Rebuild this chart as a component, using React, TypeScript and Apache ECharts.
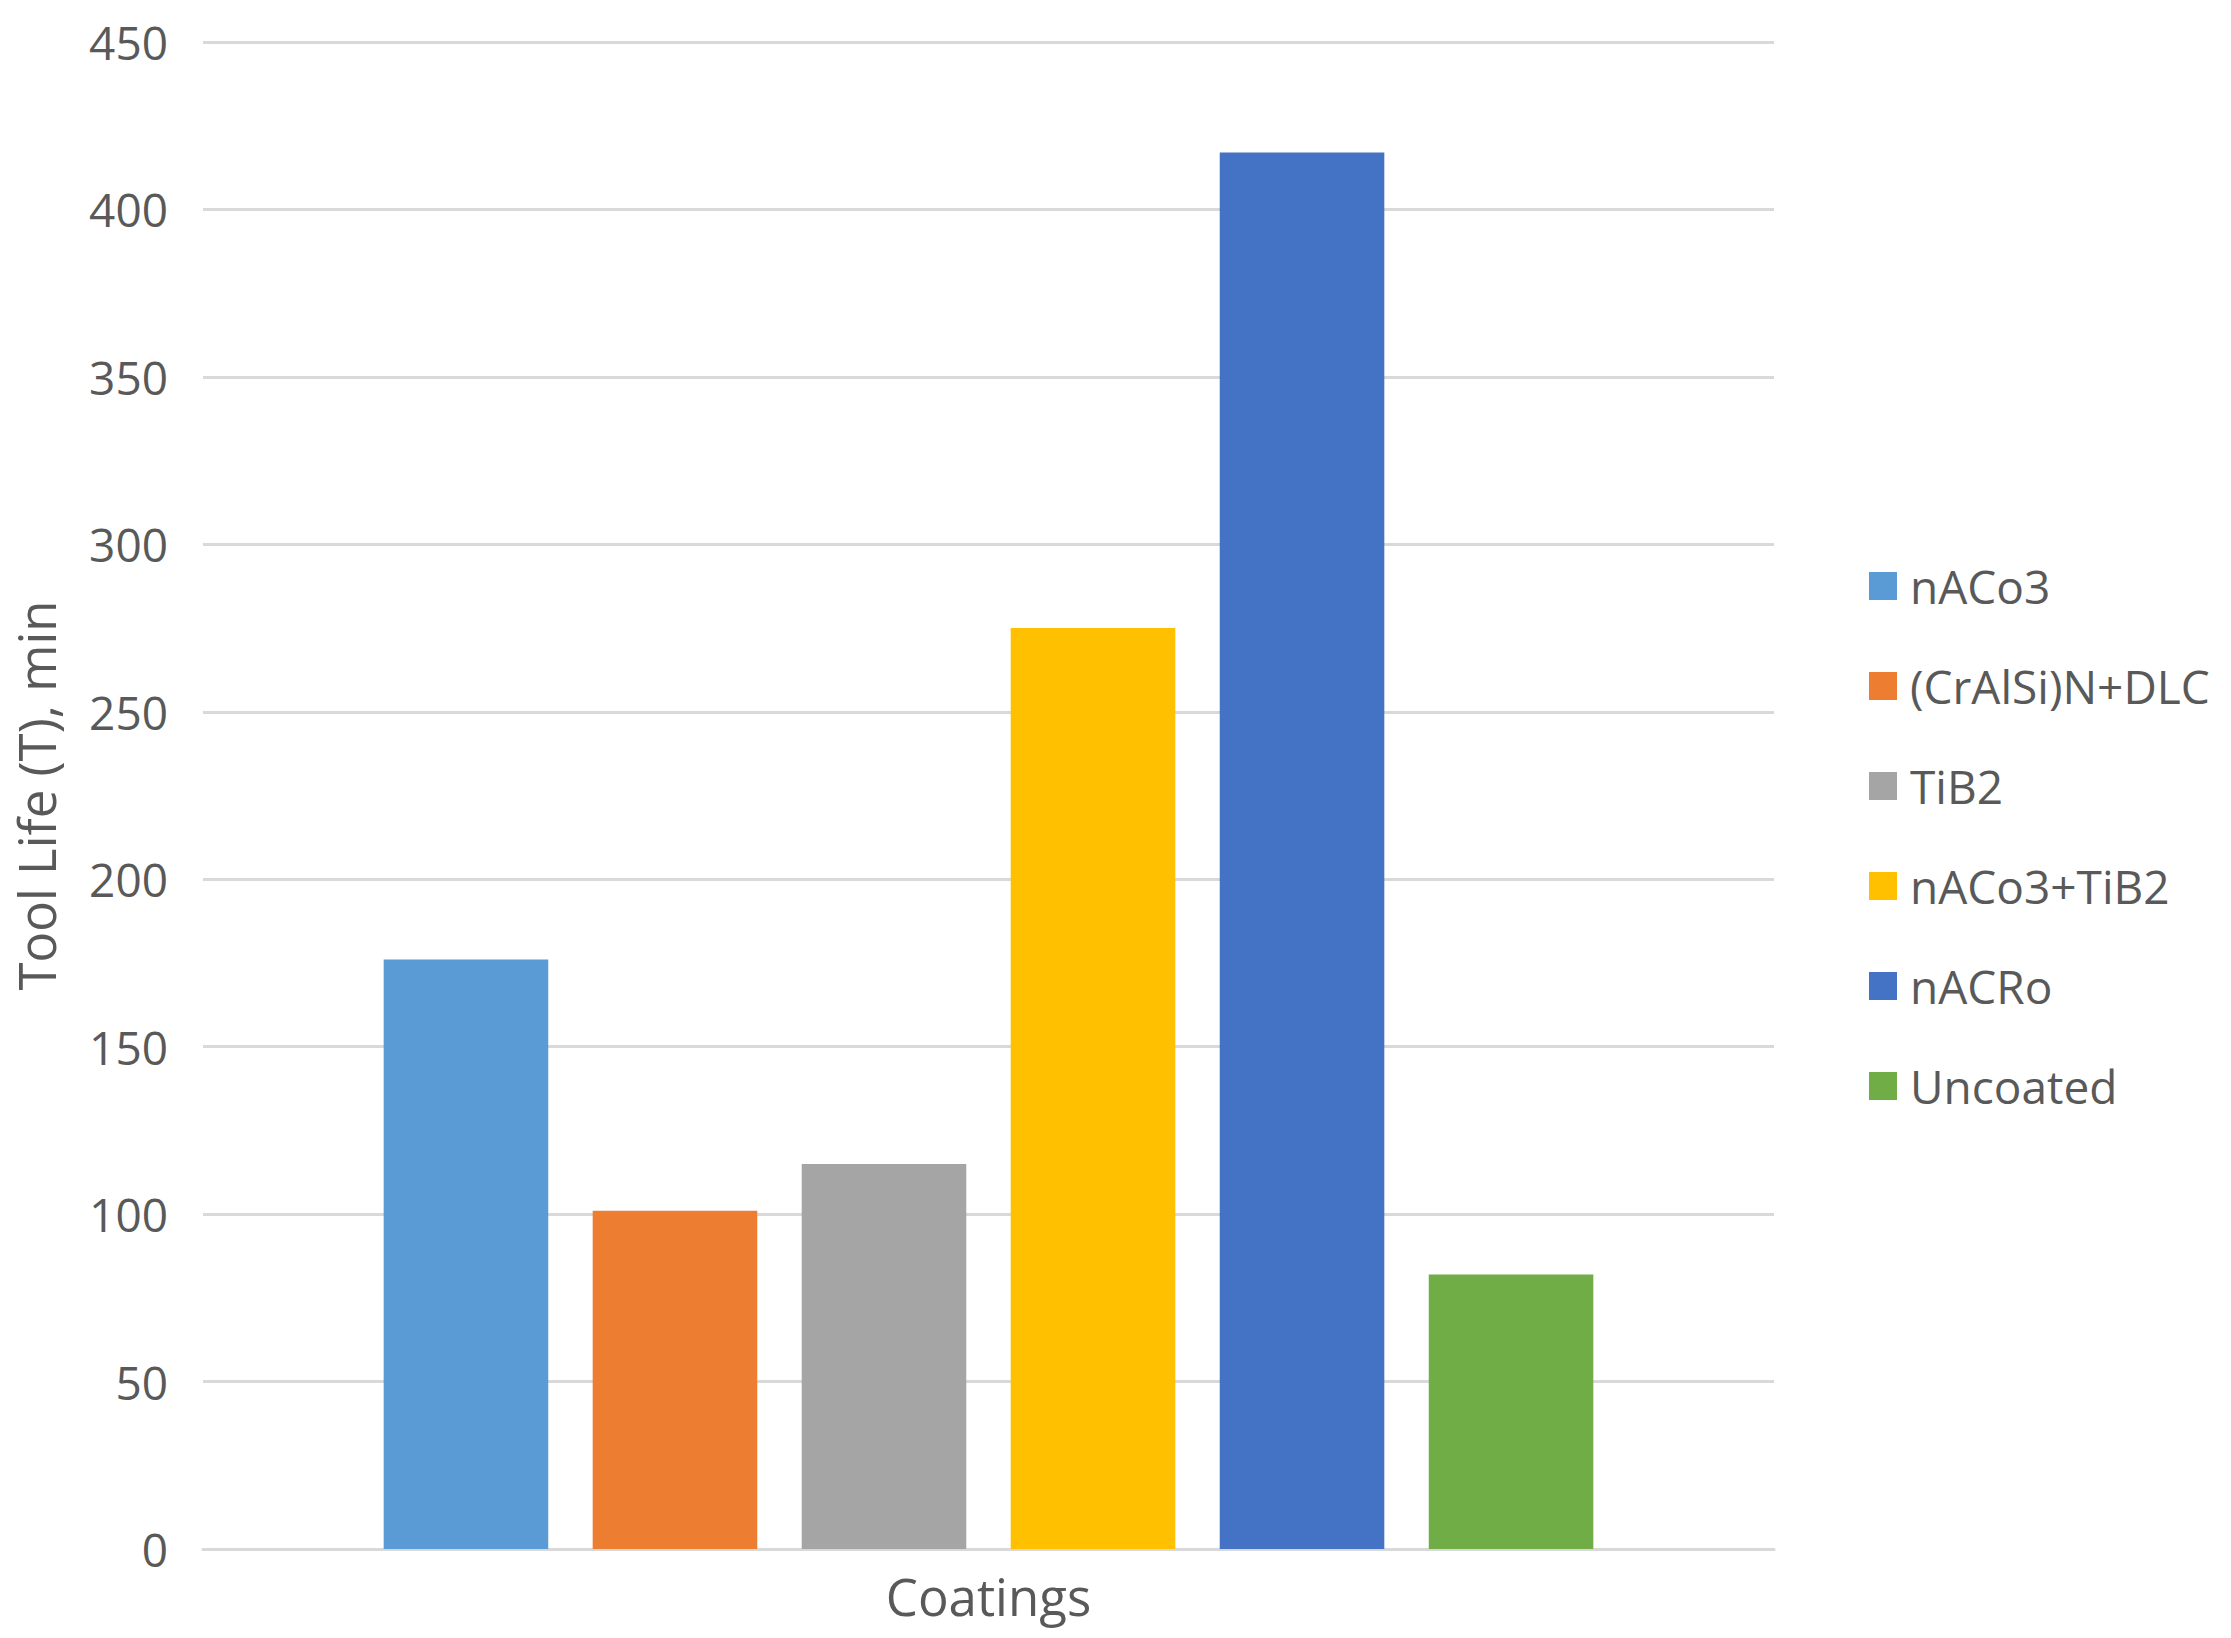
import React, { useEffect, useRef } from "react";
import * as echarts from "echarts";

const categories = ["Coatings"];
const seriesNames = ["nACo3", "(CrAlSi)N+DLC", "TiB2", "nACo3+TiB2", "nACRo", "Uncoated"];
const seriesValues = [176, 101, 115, 275, 417, 82];
const seriesColors = ["#5B9BD5", "#ED7D31", "#A5A5A5", "#FFC000", "#4472C4", "#70AD47"];
const yTicks = { min: 0, max: 450, interval: 50 };
const yTitle = "Tool Life (T), min";

const FONT = "'Open Sans', 'Noto Sans', sans-serif";
const TXT = "#595959";

export default function App() {
  const ref = useRef<HTMLDivElement>(null);
  useEffect(() => {
    if (!ref.current) return;
    const chart = echarts.init(ref.current, undefined, { renderer: "svg" });
    chart.setOption({
      animation: false,
      backgroundColor: "#ffffff",
      textStyle: { fontFamily: FONT },
      grid: { left: 203, right: 2231 - 1774, top: 42, bottom: 1638 - 1549, containLabel: false },
      legend: {
        orient: "vertical",
        left: 1864,
        top: 558,
        itemWidth: 28,
        itemHeight: 28,
        itemGap: 54,
        icon: "rect",
        data: seriesNames,
        textStyle: { fontFamily: FONT, fontSize: 46, color: TXT, lineHeight: 44, padding: [0, 0, 0, 8] },
      },
      xAxis: {
        type: "category",
        data: categories,
        axisLine: { show: true, lineStyle: { color: "#D9D9D9", width: 3 } },
        axisTick: { show: false },
        axisLabel: { fontFamily: FONT, fontSize: 51, color: TXT, margin: 21 },
        splitLine: { show: false },
      },
      yAxis: {
        type: "value",
        min: yTicks.min,
        max: yTicks.max,
        interval: yTicks.interval,
        name: yTitle,
        nameLocation: "middle",
        nameRotate: 90,
        nameGap: 142,
        nameTextStyle: { fontFamily: FONT, fontSize: 51, color: TXT },
        axisLine: { show: false },
        axisTick: { show: false },
        axisLabel: { fontFamily: FONT, fontSize: 46, color: TXT, margin: 35 },
        splitLine: { show: true, lineStyle: { color: "#D9D9D9", width: 3 } },
      },
      series: seriesNames.map((name, i) => ({
        name,
        type: "bar",
        data: [seriesValues[i]],
        itemStyle: { color: seriesColors[i] },
        barGap: "27%",
        barCategoryGap: "23%",
      })),
    });
    return () => chart.dispose();
  }, []);
  return (
    <div
      ref={ref}
      style={{ position: "fixed", left: 0, top: 0, width: "2231px", height: "1638px" }}
    />
  );
}
